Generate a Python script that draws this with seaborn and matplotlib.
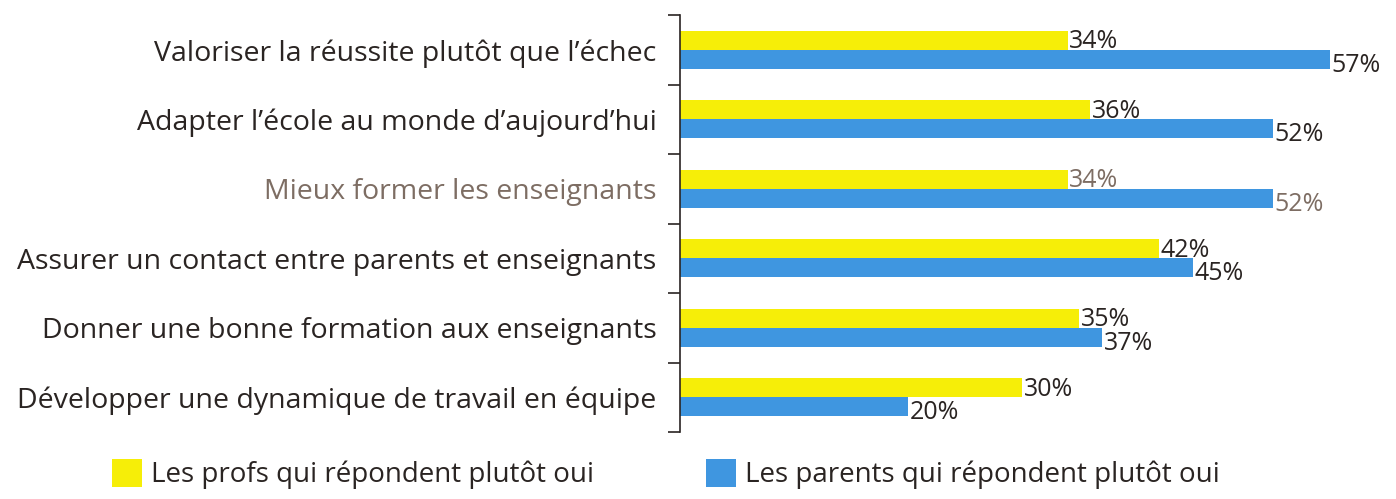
import pandas as pd
import matplotlib.pyplot as plt
import seaborn as sns
from matplotlib.ticker import FixedLocator
from matplotlib.patches import Patch

categories = [
    "Valoriser la réussite plutôt que l\u2019échec",
    "Adapter l\u2019école au monde d\u2019aujourd\u2019hui",
    "Mieux former les enseignants",
    "Assurer un contact entre parents et enseignants",
    "Donner une bonne formation aux enseignants",
    "Développer une dynamique de travail en équipe",
]
profs = [34, 36, 34, 42, 35, 30]
parents = [57, 52, 52, 45, 37, 20]
series_names = ["Les profs qui répondent plutôt oui", "Les parents qui répondent plutôt oui"]

yellow = "#f6ee08"
blue = "#3f96e0"
text_col = "#2a2422"
muted_col = "#7d6d63"

df = pd.DataFrame({
    "categorie": categories * 2,
    "groupe": [series_names[0]] * len(categories) + [series_names[1]] * len(categories),
    "valeur": profs + parents,
})

sns.set_style("white")
plt.rcParams["font.family"] = ["Open Sans", "DejaVu Sans"]

fig = plt.figure(figsize=(13.96, 4.99), dpi=100)
ax = fig.add_axes([680 / 1396, 1 - 432 / 499, 1 - 680 / 1396, (432 - 15) / 499])

sns.barplot(data=df, y="categorie", x="valeur", hue="groupe", orient="h",
            palette=[yellow, blue], saturation=1, width=0.54, gap=0,
            linewidth=0, legend=False, ax=ax)

ax.set_xlim(0, 62.8)
ax.set_ylim(5.5, -0.5)
ax.set_xlabel("")
ax.set_ylabel("")
ax.set_xticks([])

for s in ["top", "right", "bottom"]:
    ax.spines[s].set_visible(False)
ax.spines["left"].set_color(text_col)
ax.spines["left"].set_linewidth(1.2)

# category labels at centres, separator ticks between categories
ax.set_yticks(range(len(categories)))
ax.set_yticklabels(categories, fontsize=20.5)
ax.tick_params(axis="y", which="major", left=False, length=0, pad=17)
ax.yaxis.set_minor_locator(FixedLocator([i - 0.5 for i in range(len(categories) + 1)]))
ax.tick_params(axis="y", which="minor", left=True, length=9, width=1.2,
               color=text_col, direction="out")
for i, lab in enumerate(ax.get_yticklabels()):
    lab.set_color(muted_col if i == 2 else text_col)

off = 0.135
for i in range(len(categories)):
    c = muted_col if i == 2 else text_col
    ax.text(profs[i] + 0.15, i - off + 0.02, f"{profs[i]}%", fontsize=18,
            color=c, va="center", ha="left")
    ax.text(parents[i] + 0.15, i + off + 0.09, f"{parents[i]}%", fontsize=18,
            color=c, va="center", ha="left")

handles = [Patch(facecolor=yellow, edgecolor="none"), Patch(facecolor=blue, edgecolor="none")]
fig.legend(handles, series_names, loc="center", bbox_to_anchor=(0.477, 0.05), ncol=2,
           frameon=False, fontsize=20, handlelength=1.1, handleheight=1.15,
           handletextpad=0.33, columnspacing=4.0, labelcolor=text_col)

fig.savefig("out.png", dpi=100)
